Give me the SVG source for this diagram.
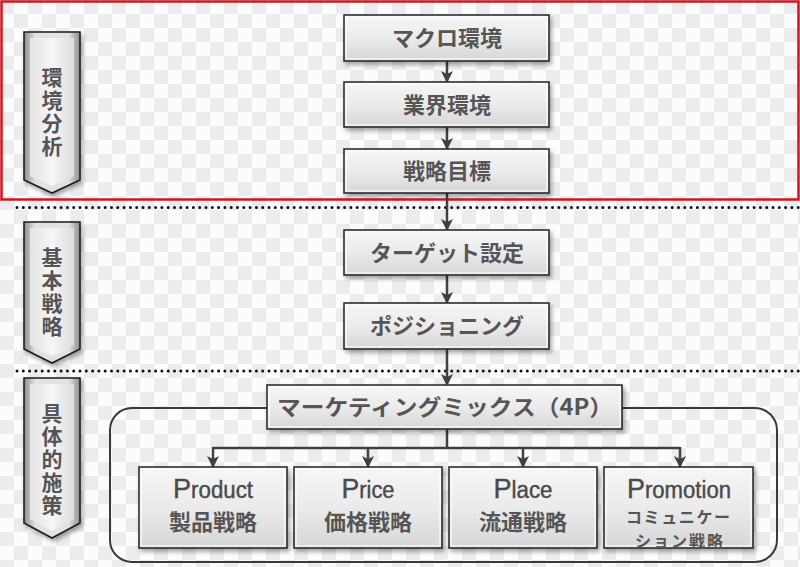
<svg xmlns="http://www.w3.org/2000/svg" width="800" height="567" viewBox="0 0 800 567">
<defs>
<pattern id="chk" width="28" height="28" patternUnits="userSpaceOnUse">
<rect width="28" height="28" fill="#fcfcfc"/>
<rect x="0" y="0" width="14" height="14" fill="#ececee"/>
<rect x="14" y="14" width="14" height="14" fill="#ececee"/>
</pattern>
<linearGradient id="boxg" x1="0" y1="0" x2="0" y2="1">
<stop offset="0" stop-color="#f6f6f6"/>
<stop offset="0.5" stop-color="#ebebeb"/>
<stop offset="1" stop-color="#d6d6d6"/>
</linearGradient>
<linearGradient id="arrg" x1="0" y1="0" x2="1" y2="0">
<stop offset="0" stop-color="#8c8c8c"/>
<stop offset="0.2" stop-color="#e2e2e2"/>
<stop offset="0.8" stop-color="#e2e2e2"/>
<stop offset="1" stop-color="#8c8c8c"/>
</linearGradient>
<linearGradient id="arrin" x1="0" y1="0" x2="1" y2="0">
<stop offset="0" stop-color="#e4e4e4"/>
<stop offset="0.5" stop-color="#f6f6f6"/>
<stop offset="1" stop-color="#dcdcdc"/>
</linearGradient>
<filter id="sh" x="-10%" y="-10%" width="130%" height="140%">
<feDropShadow dx="2" dy="3" stdDeviation="2" flood-color="#000" flood-opacity="0.35"/>
</filter>
<marker id="ah" viewBox="0 0 12 12" markerWidth="12" markerHeight="12" markerUnits="userSpaceOnUse" refX="11" refY="6" orient="auto">
<path d="M0,0 L12,6 L0,12 L3,6 z" fill="#404040"/>
</marker>
<style>
.box{fill:url(#boxg);stroke:#2e2e2e;stroke-width:1.6;filter:url(#sh)}
.bev{fill:none;stroke:#ffffff;stroke-width:1.2;opacity:0.9}
.t{font-family:"Noto Sans CJK JP","Noto Sans",sans-serif;font-weight:bold;font-size:22px;fill:#555;text-anchor:middle}
.lt{font-family:"Noto Sans CJK JP","Noto Sans",sans-serif;font-weight:bold;font-size:21px;fill:#555;text-anchor:middle;writing-mode:tb;letter-spacing:2px}
.en{font-family:"Liberation Sans Narrow","Liberation Sans",sans-serif;font-size:23px;fill:#4a4a4a;text-anchor:middle;stroke:#4a4a4a;stroke-width:0.4}
.en .cap{font-size:28px}
.arr{fill:url(#arrg);stroke:#1e1e1e;stroke-width:1.6;filter:url(#sh)}
.arri{fill:url(#arrin);stroke:none}
.con{fill:none;stroke:#404040;stroke-width:2.5}
.dot{stroke:#111;stroke-width:3;stroke-linecap:round;stroke-dasharray:0 6.3}
</style>
</defs>
<rect width="800" height="567" fill="url(#chk)"/>
<rect x="1.5" y="1.5" width="797" height="198" fill="none" stroke="#d3141c" stroke-width="2.5"/>
<line class="dot" x1="17" y1="207.5" x2="800" y2="207.5"/>
<line class="dot" x1="17" y1="371" x2="800" y2="371"/>

<g id="phase1">
<path class="arr" d="M24,32 H80 V180 L52,193 L24,180 Z"/>
<path class="arri" d="M30,38 H74 V176 L52,186 L30,176 Z"/>
<text class="lt" x="52" y="113">環境分析</text>
</g>
<g id="phase2">
<path class="arr" d="M24,222 H80 V349 L52,363 L24,349 Z"/>
<path class="arri" d="M30,228 H74 V345 L52,356 L30,345 Z"/>
<text class="lt" x="52" y="293">基本戦略</text>
</g>
<g id="phase3">
<path class="arr" d="M24,378 H80 V523 L52,538 L24,523 Z"/>
<path class="arri" d="M30,384 H74 V519 L52,531 L30,519 Z"/>
<text class="lt" x="52" y="460">具体的施策</text>
</g>

<g id="container">
<rect x="110" y="408" width="667" height="154" rx="22" fill="none" stroke="#3a3a3a" stroke-width="2"/>
</g>

<g id="connectors">
<line class="con" x1="447" y1="61" x2="447" y2="82" marker-end="url(#ah)"/>
<line class="con" x1="447" y1="127" x2="447" y2="149" marker-end="url(#ah)"/>
<line class="con" x1="447" y1="193" x2="447" y2="230" marker-end="url(#ah)"/>
<line class="con" x1="447" y1="275" x2="447" y2="303" marker-end="url(#ah)"/>
<line class="con" x1="447" y1="349" x2="447" y2="385" marker-end="url(#ah)"/>
<line class="con" x1="447" y1="429" x2="447" y2="448"/>
<line class="con" x1="213" y1="448" x2="680" y2="448"/>
<line class="con" x1="213" y1="447" x2="213" y2="467" marker-end="url(#ah)"/>
<line class="con" x1="368" y1="447" x2="368" y2="467" marker-end="url(#ah)"/>
<line class="con" x1="523" y1="447" x2="523" y2="467" marker-end="url(#ah)"/>
<line class="con" x1="680" y1="447" x2="680" y2="467" marker-end="url(#ah)"/>
</g>

<g id="macro">
<rect class="box" x="344" y="15" width="205" height="46"/>
<rect class="bev" x="346" y="17" width="201" height="42"/>
<text class="t" x="447" y="46">マクロ環境</text>
</g>
<g id="industry">
<rect class="box" x="344" y="82" width="205" height="45"/>
<rect class="bev" x="346" y="84" width="201" height="41"/>
<text class="t" x="447" y="113">業界環境</text>
</g>
<g id="goal">
<rect class="box" x="344" y="149" width="205" height="44"/>
<rect class="bev" x="346" y="151" width="201" height="40"/>
<text class="t" x="447" y="179">戦略目標</text>
</g>
<g id="target">
<rect class="box" x="344" y="230" width="205" height="45"/>
<rect class="bev" x="346" y="232" width="201" height="41"/>
<text class="t" x="447" y="261">ターゲット設定</text>
</g>
<g id="positioning">
<rect class="box" x="344" y="303" width="205" height="46"/>
<rect class="bev" x="346" y="305" width="201" height="42"/>
<text class="t" x="447" y="334">ポジショニング</text>
</g>
<g id="mix">
<rect class="box" x="267" y="385" width="355" height="44"/>
<rect class="bev" x="269" y="387" width="351" height="40"/>
<text class="t" x="445" y="415" textLength="336" lengthAdjust="spacingAndGlyphs">マーケティングミックス（4P）</text>
</g>

<g id="product">
<rect class="box" x="139" y="467" width="148" height="81"/>
<rect class="bev" x="141" y="469" width="144" height="77"/>
<text class="en" x="213" y="498" textLength="80" lengthAdjust="spacingAndGlyphs"><tspan class="cap">P</tspan>roduct</text>
<text class="t" x="213" y="530">製品戦略</text>
</g>
<g id="price">
<rect class="box" x="294" y="467" width="148" height="81"/>
<rect class="bev" x="296" y="469" width="144" height="77"/>
<text class="en" x="368" y="498" textLength="53" lengthAdjust="spacingAndGlyphs"><tspan class="cap">P</tspan>rice</text>
<text class="t" x="368" y="530">価格戦略</text>
</g>
<g id="place">
<rect class="box" x="449" y="467" width="148" height="81"/>
<rect class="bev" x="451" y="469" width="144" height="77"/>
<text class="en" x="523" y="498" textLength="59" lengthAdjust="spacingAndGlyphs"><tspan class="cap">P</tspan>lace</text>
<text class="t" x="523" y="530">流通戦略</text>
</g>
<g id="promotion">
<rect class="box" x="604" y="467" width="149" height="81"/>
<rect class="bev" x="606" y="469" width="145" height="77"/>
<text class="en" x="679" y="498" textLength="104" lengthAdjust="spacingAndGlyphs"><tspan class="cap">P</tspan>romotion</text>
<text class="t" x="678" y="523" style="font-size:16px" textLength="104" lengthAdjust="spacing">コミュニケー</text>
<text class="t" x="679" y="546.5" style="font-size:16px" textLength="88" lengthAdjust="spacing">ション戦略</text>
</g>
</svg>
